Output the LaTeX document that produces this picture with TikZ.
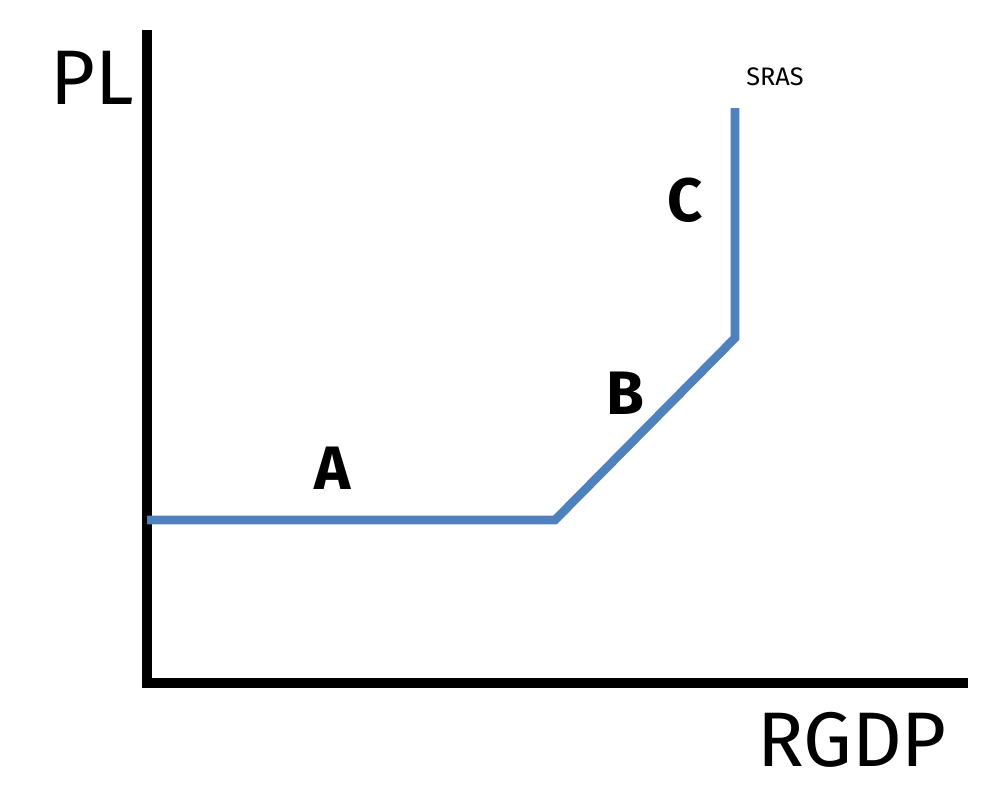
\documentclass[tikz,border=0pt]{standalone}
\usepackage{fontspec}
\setmainfont{Fira Sans}
\definecolor{srasblue}{HTML}{4F81BD}
\tikzset{
  axis/.style={line width=7.5pt},
  curve/.style={line width=6.5pt,srasblue},
  biglabel/.style={inner sep=0pt,font=\fontsize{58}{60}\selectfont},
  seglabel/.style={inner sep=0pt,font=\fontsize{46}{48}\selectfont\bfseries},
}
\begin{document}
\begin{tikzpicture}[x=0.75pt,y=0.75pt,yscale=-1,xscale=1]
	\useasboundingbox (0,0) rectangle (1006,800);
	% axes
	\coordinate (top) at (147,30);
	\coordinate (origin) at (147,683);
	\coordinate (right) at (968,683);
	\draw [axis] (top) -- (origin) -- (right);
	% SRAS curve
	\coordinate (p0) at (147,520);
	\coordinate (p1) at (555,520);
	\coordinate (p2) at (735,338);
	\coordinate (p3) at (735,108);
	\draw [curve,line join=miter] (p0) -- (p1) -- (p2) -- (p3);

	\node [biglabel] (pl) at (92,78) {PL};
	\node [biglabel] (rgdp) at (852,740) {RGDP};
	\node [inner sep=0pt,font=\fontsize{19}{20}\selectfont] (sras) at (775,77) {SRAS};
	\node [seglabel] (lc) at (685,200) {C};
	\node [seglabel] (lb) at (625,393) {B};
	\node [seglabel] (la) at (333,468) {A};
\end{tikzpicture}
\end{document}
